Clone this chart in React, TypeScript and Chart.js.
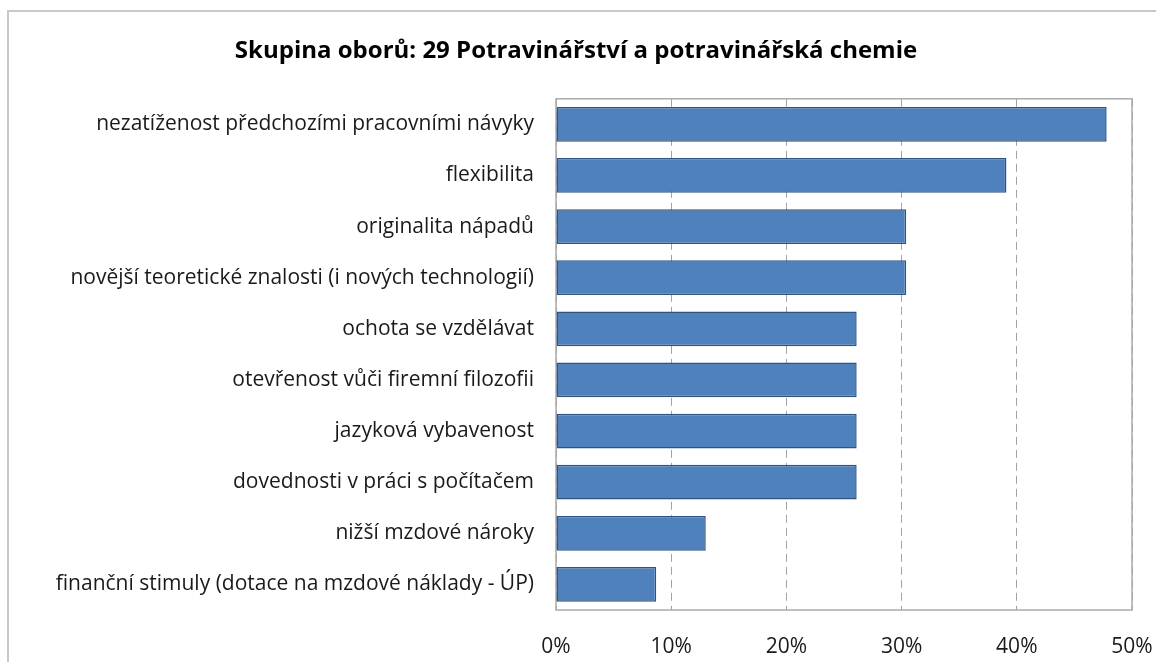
import React, { useEffect, useRef } from 'react';
import { Chart, registerables } from 'chart.js';

Chart.register(...registerables);

const chartTitle = 'Skupina oborů: 29 Potravinářství a potravinářská chemie';

const categories = [
  'nezatíženost předchozími pracovními návyky',
  'flexibilita',
  'originalita nápadů',
  'novější teoretické znalosti (i nových technologií)',
  'ochota se vzdělávat',
  'otevřenost vůči firemní filozofii',
  'jazyková vybavenost',
  'dovednosti v práci s počítačem',
  'nižší mzdové nároky',
  'finanční stimuly (dotace na mzdové náklady - ÚP)',
];

const shares = [47.8, 39.1, 30.4, 30.4, 26.1, 26.1, 26.1, 26.1, 13.0, 8.7];

const axisMin = 0;
const axisMax = 50;
const axisStep = 10;

const plotFrame = {
  id: 'plotFrame',
  beforeDatasetsDraw(chart: any) {
    const { ctx, chartArea } = chart;
    ctx.save();
    ctx.strokeStyle = '#ababab';
    ctx.lineWidth = 1.5;
    ctx.setLineDash([]);
    ctx.strokeRect(chartArea.left, chartArea.top, chartArea.right - chartArea.left, chartArea.bottom - chartArea.top);
    ctx.restore();
  },
};

export default function App() {
  const canvasRef = useRef<HTMLCanvasElement | null>(null);

  useEffect(() => {
    const canvas = canvasRef.current;
    if (!canvas) return;
    const chart = new Chart(canvas, {
      type: 'bar',
      data: {
        labels: categories,
        datasets: [
          {
            data: shares,
            backgroundColor: '#4f81bd',
            borderColor: '#2f5382',
            borderWidth: 1.5,
            borderSkipped: false,
            categoryPercentage: 1,
            barPercentage: 0.68,
          },
        ],
      },
      options: {
        indexAxis: 'y',
        responsive: false,
        animation: false,
        devicePixelRatio: 1,
        layout: { padding: { left: 20, right: 24, top: 0, bottom: 0 } },
        plugins: {
          legend: { display: false },
          tooltip: { enabled: false },
          title: {
            display: true,
            text: chartTitle,
            color: '#000000',
            font: { family: 'Open Sans', size: 24, weight: 'bold', lineHeight: 1.2 },
            padding: { top: 37, bottom: 33 },
          },
        },
        scales: {
          x: {
            type: 'linear',
            min: axisMin,
            max: axisMax,
            afterFit(scale: any) {
              scale.height = 52;
              scale.paddingLeft = 0;
              scale.paddingRight = 0;
            },
            ticks: {
              stepSize: axisStep,
              padding: 24,
              color: '#1a1a1a',
              font: { family: 'Open Sans', size: 21 },
              callback: (v: any) => `${v}%`,
            },
            grid: {
              color: '#a3a3a3',
              lineWidth: 1,
              drawTicks: false,
            },
            border: { display: false, dash: [8, 5] },
          },
          y: {
            afterFit(scale: any) {
              scale.width = 536;
              scale.paddingTop = 0;
              scale.paddingBottom = 0;
            },
            ticks: {
              padding: 22,
              color: '#1a1a1a',
              font: { family: 'Open Sans', size: 21 },
              autoSkip: false,
            },
            grid: { display: false, drawTicks: false },
            border: { display: false },
          },
        },
      },
      plugins: [plotFrame],
    });
    return () => chart.destroy();
  }, []);

  return (
    <div style={{ position: 'fixed', left: 0, top: 0, width: 1156, height: 662, overflow: 'hidden', background: '#ffffff' }}>
      <div
        style={{
          position: 'absolute',
          left: 7,
          top: 10,
          width: 1200,
          height: 700,
          borderLeft: '2px solid #c8c8c8',
          borderTop: '2px solid #c8c8c8',
        }}
      />
      <canvas ref={canvasRef} width={1156} height={662} style={{ position: 'absolute', left: 0, top: 0, width: 1156, height: 662 }} />
    </div>
  );
}
